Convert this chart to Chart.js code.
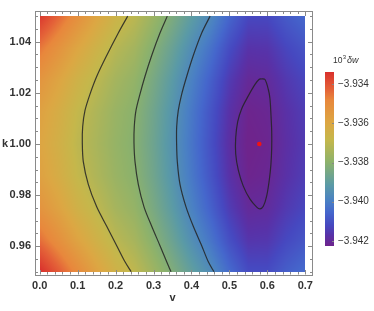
<!DOCTYPE html>
<html><head><meta charset="utf-8">
<script src="https://cdn.jsdelivr.net/npm/chart.js@4.4.1/dist/chart.umd.min.js"></script>
<style>html,body{margin:0;padding:0;background:#fff;}canvas{display:block;}</style>
</head><body>
<canvas id="c" width="374" height="311"></canvas>
<script>
// ---- data ----
const vGrid = [0, 0.05, 0.10, 0.15, 0.20, 0.25, 0.30, 0.35, 0.40, 0.45, 0.50, 0.55, 0.60, 0.65, 0.70];
const kGrid = [1.05, 1.0375, 1.025, 1.0125, 1.0, 0.9875, 0.975, 0.9625, 0.95];
const dwRow1050 = [-3.9335, -3.9343, -3.9351, -3.9359, -3.9366, -3.93705, -3.9377, -3.93835, -3.93905, -3.9397, -3.94055, -3.9412, -3.9412, -3.9408, -3.9405];
const dwRow1038 = [-3.93455, -3.93522, -3.93593, -3.93656, -3.93713, -3.93751, -3.93814, -3.93881, -3.93955, -3.94027, -3.9411, -3.94168, -3.94164, -3.94124, -3.94094];
const dwRow1025 = [-3.9353, -3.93588, -3.93653, -3.93703, -3.9375, -3.93784, -3.93845, -3.93914, -3.93991, -3.94068, -3.94149, -3.94203, -3.94195, -3.94155, -3.94125];
const dwRow1013 = [-3.93575, -3.93627, -3.93688, -3.93731, -3.93773, -3.93803, -3.93864, -3.93933, -3.94013, -3.94092, -3.94172, -3.94223, -3.94214, -3.94174, -3.94144];
const dwRow1000 = [-3.9359, -3.9364, -3.9370, -3.9374, -3.9378, -3.9381, -3.9387, -3.9394, -3.9402, -3.9410, -3.9418, -3.9423, -3.9422, -3.9418, -3.9415];
const dwRow0988 = [-3.93574, -3.93626, -3.93687, -3.9373, -3.93772, -3.93803, -3.93863, -3.93933, -3.94012, -3.94091, -3.94172, -3.94223, -3.94213, -3.94173, -3.94143];
const dwRow0975 = [-3.93525, -3.93583, -3.93649, -3.93699, -3.93748, -3.93782, -3.93843, -3.93912, -3.93989, -3.94065, -3.94146, -3.942, -3.94193, -3.94153, -3.94123];
const dwRow0963 = [-3.93444, -3.93512, -3.93585, -3.93649, -3.93707, -3.93746, -3.93809, -3.93876, -3.9395, -3.94021, -3.94104, -3.94163, -3.94159, -3.94119, -3.94089];
const dwRow0950 = [-3.93331, -3.93413, -3.93495, -3.93578, -3.9365, -3.93697, -3.93762, -3.93827, -3.93896, -3.9396, -3.94045, -3.94111, -3.94112, -3.94072, -3.94042];
const dwGrid = [dwRow1050, dwRow1038, dwRow1025, dwRow1013, dwRow1000, dwRow0988, dwRow0975, dwRow0963, dwRow0950];

const contour1 = [{x:0.232,y:1.05},{x:0.2072,y:1.0434},{x:0.1766,y:1.0346},{x:0.1502,y:1.0264},{x:0.1326,y:1.0195},{x:0.1194,y:1.0131},{x:0.1133,y:1.0068},{x:0.1123,y:1.0005},{x:0.1149,y:0.9931},{x:0.1281,y:0.9842},{x:0.1502,y:0.9754},{x:0.1766,y:0.9678},{x:0.2030,y:0.9602},{x:0.2248,y:0.9539},{x:0.241,y:0.95}];
const contour2 = [{x:0.3363,y:1.05},{x:0.3170,y:1.0434},{x:0.2952,y:1.0346},{x:0.2774,y:1.0264},{x:0.2643,y:1.0195},{x:0.2538,y:1.0131},{x:0.2493,y:1.0068},{x:0.2485,y:1.0005},{x:0.2512,y:0.9931},{x:0.2599,y:0.9842},{x:0.2749,y:0.9754},{x:0.2952,y:0.9678},{x:0.3171,y:0.9602},{x:0.3347,y:0.9539},{x:0.3461,y:0.95}];
const contour3 = [{x:0.4492,y:1.05},{x:0.4270,y:1.0434},{x:0.4048,y:1.0346},{x:0.3874,y:1.0264},{x:0.3743,y:1.0195},{x:0.3653,y:1.0131},{x:0.3611,y:1.0068},{x:0.3608,y:1.0005},{x:0.3627,y:0.9931},{x:0.3698,y:0.9842},{x:0.3856,y:0.9754},{x:0.4048,y:0.9678},{x:0.4270,y:0.9602},{x:0.4444,y:0.9539},{x:0.4594,y:0.95}];
const contour4 = [{x:0.5851,y:1.0255},{x:0.5938,y:1.0252},{x:0.6025,y:1.0214},{x:0.6070,y:1.0176},{x:0.6096,y:1.0113},{x:0.6115,y:1.0049},{x:0.6115,y:0.9986},{x:0.6096,y:0.9923},{x:0.6052,y:0.9860},{x:0.5983,y:0.9797},{x:0.5894,y:0.9756},{x:0.5807,y:0.9746},{x:0.5720,y:0.9753},{x:0.5543,y:0.9784},{x:0.5366,y:0.9835},{x:0.5235,y:0.9898},{x:0.5166,y:0.9961},{x:0.5166,y:1.0024},{x:0.5219,y:1.0087},{x:0.5324,y:1.0138},{x:0.5498,y:1.0188},{x:0.5675,y:1.0233},{x:0.5780,y:1.0252},{x:0.5851,y:1.0255}];
const minPoint = [{x:0.5788,y:1.0}];

const xTickVals = [0, 0.1, 0.2, 0.3, 0.4, 0.5, 0.6, 0.7];
const yTickVals = [0.96, 0.98, 1.00, 1.02, 1.04];
const cbTickVals = [-3.934, -3.936, -3.938, -3.940, -3.942];
const cbRange = [-3.94226, -3.93338];

// ---- colour map (Rainbow-like) ----
const stops = [
  [0.00,[110,36,140]],[0.063,[88,50,168]],[0.12,[70,72,192]],[0.195,[69,103,204]],
  [0.259,[74,128,196]],[0.35,[90,154,166]],[0.483,[141,178,107]],[0.61,[197,183,75]],
  [0.707,[220,167,67]],[0.84,[232,135,60]],[0.90,[228,98,56]],[1.00,[217,49,45]]
];
function cmap(t){
  t=Math.max(0,Math.min(1,t));
  for(let i=1;i<stops.length;i++){
    if(t<=stops[i][0]){
      const a=stops[i-1],b=stops[i],f=(t-a[0])/(b[0]-a[0]);
      return [0,1,2].map(j=>Math.round(a[1][j]+(b[1][j]-a[1][j])*f));
    }
  }
  return stops[stops.length-1][1];
}
const norm = v => (v-cbRange[0])/(cbRange[1]-cbRange[0]);

const heatPlugin = {
  id:'heat',
  beforeDatasetsDraw(chart){
    const {ctx, scales:{x,y}} = chart;
    const nc=vGrid.length, nr=kGrid.length;
    const px0=Math.round(x.getPixelForValue(vGrid[0])), px1=Math.round(x.getPixelForValue(vGrid[nc-1]));
    const py0=Math.round(y.getPixelForValue(kGrid[0])), py1=Math.round(y.getPixelForValue(kGrid[nr-1]));
    const w=px1-px0, h=py1-py0;
    const img=ctx.createImageData(w,h);
    const dv=vGrid[1]-vGrid[0], dk=kGrid[0]-kGrid[1];
    for(let j=0;j<h;j++){
      const k=y.getValueForPixel(py0+j+0.5);
      let fj=(kGrid[0]-k)/dk; fj=Math.max(0,Math.min(nr-1.0001,fj));
      const j0=Math.floor(fj), tj=fj-j0;
      for(let i=0;i<w;i++){
        const v=x.getValueForPixel(px0+i+0.5);
        let fi=(v-vGrid[0])/dv; fi=Math.max(0,Math.min(nc-1.0001,fi));
        const i0=Math.floor(fi), ti=fi-i0;
        const a=dwGrid[j0][i0], b=dwGrid[j0][i0+1], c=dwGrid[j0+1][i0], d=dwGrid[j0+1][i0+1];
        const val=(a*(1-ti)+b*ti)*(1-tj)+(c*(1-ti)+d*ti)*tj;
        const col=cmap(norm(val));
        const p=(j*w+i)*4;
        img.data[p]=col[0];img.data[p+1]=col[1];img.data[p+2]=col[2];img.data[p+3]=255;
      }
    }
    ctx.putImageData(img,px0,py0);
  },
  afterDraw(chart){
    const {ctx, chartArea:ca, scales:{x,y}} = chart;
    ctx.save();
    // frame
    ctx.strokeStyle='#8a8a8a'; ctx.lineWidth=1;
    ctx.strokeRect(Math.round(ca.left)+0.5, Math.round(ca.top)+0.5, Math.round(ca.right-ca.left), Math.round(ca.bottom-ca.top));
    const L=Math.round(ca.left)+0.5, R=Math.round(ca.right)+0.5, T=Math.round(ca.top)+0.5, B=Math.round(ca.bottom)+0.5;
    ctx.beginPath();
    for(let m=0;m<=35;m++){
      const v=m*0.02; const px=Math.round(x.getPixelForValue(v))+0.5;
      const len=(m%5===0)?4.5:2.5;
      ctx.moveTo(px,B);ctx.lineTo(px,B-len);ctx.moveTo(px,T);ctx.lineTo(px,T+len);
    }
    for(let m=0;m<=20;m++){
      const k=0.95+m*0.005; const py=Math.round(y.getPixelForValue(k))+0.5;
      const len=((m-2)%4===0)?4.5:2.5;
      ctx.moveTo(L,py);ctx.lineTo(L+len,py);ctx.moveTo(R,py);ctx.lineTo(R-len,py);
    }
    ctx.stroke();
    // axis titles
    ctx.fillStyle='#333'; ctx.font='bold 11px "Liberation Sans", Arial, sans-serif';
    ctx.textAlign='center'; ctx.textBaseline='middle';
    ctx.fillText('k', 5, y.getPixelForValue(1.0));
    ctx.fillText('v', (x.getPixelForValue(0)+x.getPixelForValue(0.7))/2, 298);
    // colour bar
    const cbL=325, cbW=9, cbT=72, cbB=246;
    for(let py=cbT;py<cbB;py++){
      const t=(cbB-(py+0.5))/(cbB-cbT);
      const col=cmap(t);
      ctx.fillStyle=`rgb(${col[0]},${col[1]},${col[2]})`;
      ctx.fillRect(cbL,py,cbW,1);
    }
    ctx.strokeStyle='#888'; ctx.beginPath();
    ctx.fillStyle='#333'; ctx.font='10px "Liberation Sans", Arial, sans-serif';
    ctx.textAlign='left'; ctx.textBaseline='middle';
    cbTickVals.forEach(v=>{
      const py=cbB-norm(v)*(cbB-cbT);
      ctx.moveTo(cbL+cbW,Math.round(py)+0.5); ctx.lineTo(cbL+cbW-2,Math.round(py)+0.5);
      ctx.fillText('\u2212'+Math.abs(v).toFixed(3), cbL+cbW+4, py);
    });
    ctx.stroke();
    // colour bar title 10^3 δw
    ctx.textBaseline='alphabetic';
    let tx=333, ty=63;
    ctx.font='8.5px "Liberation Sans", Arial, sans-serif';
    ctx.fillText('10',tx,ty); tx+=ctx.measureText('10').width;
    ctx.font='6px "Liberation Sans", Arial, sans-serif';
    ctx.fillText('3',tx+0.3,ty-4); tx+=ctx.measureText('3').width+1.3;
    ctx.font='italic 9px "Liberation Sans", Arial, sans-serif';
    ctx.fillText('\u03b4w',tx,ty);
    ctx.restore();
  }
};

const lineStyle = {showLine:true, pointRadius:0, borderColor:'rgba(35,35,35,0.85)', borderWidth:1.2, tension:0.3, fill:false};

new Chart(document.getElementById('c'), {
  type:'scatter',
  data:{datasets:[
    Object.assign({data:contour1}, lineStyle),
    Object.assign({data:contour2}, lineStyle),
    Object.assign({data:contour3}, lineStyle),
    Object.assign({data:contour4}, lineStyle),
    {data:minPoint, pointRadius:2.3, backgroundColor:'#f01414', borderWidth:0, showLine:false}
  ]},
  options:{
    responsive:false, animation:false, devicePixelRatio:1,
    layout:{padding:{top:2, right:62.5, left:0, bottom:0}},
    plugins:{legend:{display:false}, tooltip:{enabled:false}},
    scales:{
      x:{type:'linear', min:-0.0124, max:0.7164,
        grid:{display:false, drawTicks:false}, border:{display:false},
        afterBuildTicks:s=>{s.ticks=xTickVals.map(v=>({value:v}));},
        afterFit:s=>{s.height=36.7;},
        ticks:{autoSkip:false, maxRotation:0, padding:5, color:'#333',
          font:{family:'"Liberation Sans", Arial, sans-serif', size:11, weight:'bold'},
          callback:v=>Number(v).toFixed(1)}},
      y:{type:'linear', min:0.94902, max:1.05216,
        grid:{display:false, drawTicks:false}, border:{display:false},
        afterBuildTicks:s=>{s.ticks=yTickVals.map(v=>({value:v}));},
        afterFit:s=>{s.width=35;},
        ticks:{autoSkip:false, padding:4, color:'#333',
          font:{family:'"Liberation Sans", Arial, sans-serif', size:11, weight:'bold'},
          callback:v=>Number(v).toFixed(2)}}
    }
  },
  plugins:[heatPlugin]
});
</script>
</body></html>
